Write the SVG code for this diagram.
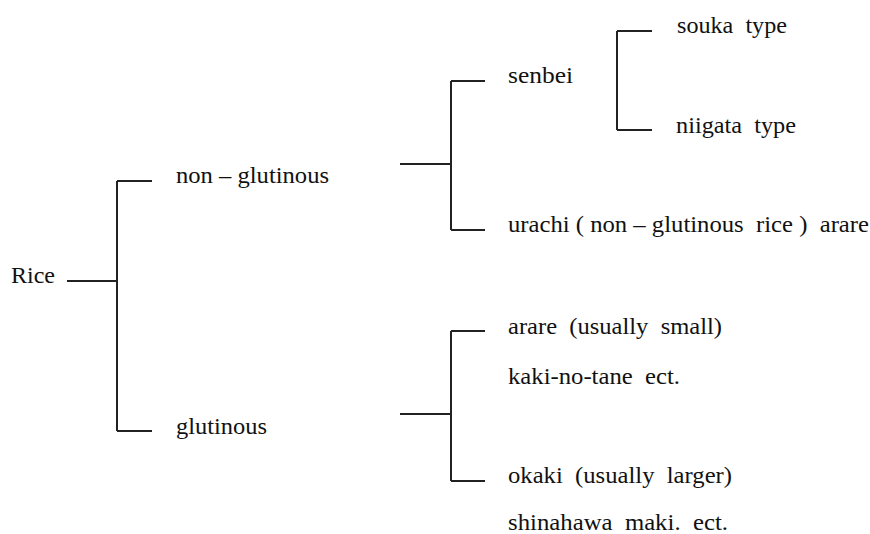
<svg xmlns="http://www.w3.org/2000/svg" width="870" height="534" viewBox="0 0 870 534">
<style>
text{font-size:23px;fill:#111;white-space:pre}
.c{stroke:#222;stroke-width:2;fill:none}
</style>
<rect width="870" height="534" fill="#fff"/>
<g id="connectors">
<path class="c" d="M67,281H117M117,181V431M117,181H152M117,431H152"/>
<path class="c" d="M400,164H451M451,81V230M451,81H485M451,230H485"/>
<path class="c" d="M617,31V130M617,31H652M617,130H652"/>
<path class="c" d="M400,414H451M451,331V481M451,331H485M451,481H485"/>
</g>
<g font-family="Liberation Serif, DejaVu Serif, serif">
<g id="rice"><text x="11" y="283" textLength="44" lengthAdjust="spacingAndGlyphs">Rice</text></g>
<g id="non-glutinous"><text x="176" y="183" textLength="153" lengthAdjust="spacingAndGlyphs">non – glutinous</text></g>
<g id="glutinous"><text x="176" y="434" textLength="91" lengthAdjust="spacingAndGlyphs">glutinous</text></g>
<g id="senbei"><text x="508" y="83" textLength="65" lengthAdjust="spacingAndGlyphs">senbei</text></g>
<g id="urachi"><text x="508" y="232" textLength="361" lengthAdjust="spacingAndGlyphs">urachi ( non – glutinous  rice )  arare</text></g>
<g id="souka"><text x="677" y="33" textLength="110" lengthAdjust="spacingAndGlyphs">souka  type</text></g>
<g id="niigata"><text x="676" y="133" textLength="120" lengthAdjust="spacingAndGlyphs">niigata  type</text></g>
<g id="arare"><text x="508" y="334" textLength="214" lengthAdjust="spacingAndGlyphs">arare  (usually  small)</text>
<text x="508" y="384" textLength="172" lengthAdjust="spacingAndGlyphs">kaki-no-tane  ect.</text></g>
<g id="okaki"><text x="508" y="483" textLength="224" lengthAdjust="spacingAndGlyphs">okaki  (usually  larger)</text>
<text x="508" y="530" textLength="220" lengthAdjust="spacingAndGlyphs">shinahawa  maki.  ect.</text></g>
</g>
</svg>
